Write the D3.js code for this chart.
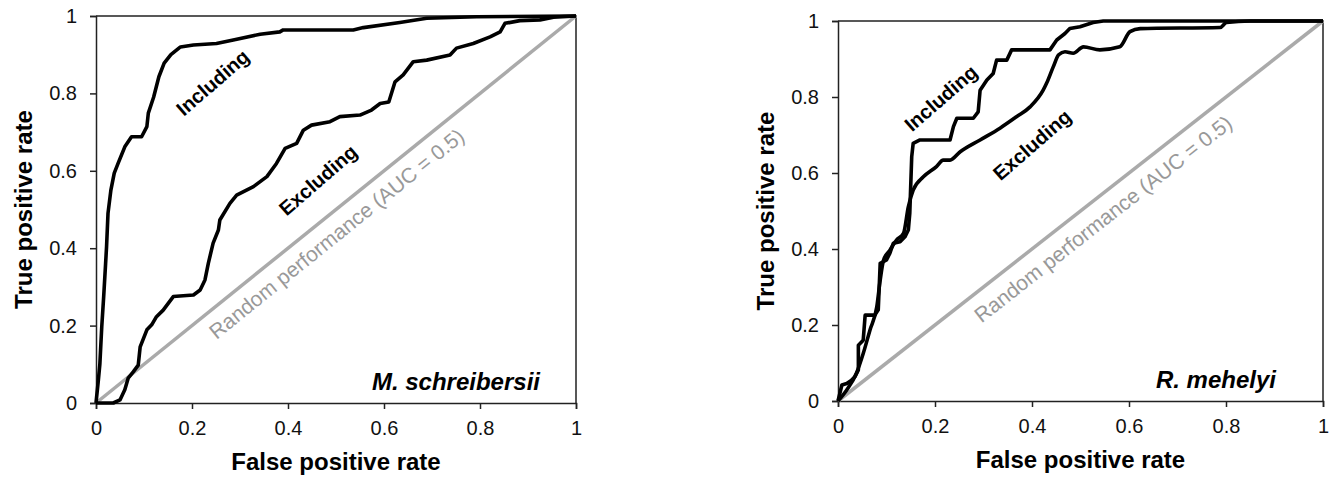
<!DOCTYPE html>
<html>
<head>
<meta charset="utf-8">
<script src="https://cdn.jsdelivr.net/npm/d3@7.9.0/dist/d3.min.js"></script>
<style>
  body { margin: 0; background: #fff; }
  svg { display: block; font-family: Arial, "Liberation Sans", sans-serif; }
</style>
</head>
<body>
<div id="viz"></div>
<script>
// tick values shared by both panels
const ticks = [0, 0.2, 0.4, 0.6, 0.8, 1];

// M. schreibersii  [false positive rate, true positive rate]
const msIncluding = [
  [0, 0], [0.005, 0.06], [0.008, 0.10], [0.012, 0.197], [0.016, 0.275], [0.02, 0.36],
  [0.022, 0.404], [0.025, 0.49], [0.031, 0.55], [0.038, 0.594], [0.046, 0.619],
  [0.06, 0.662], [0.074, 0.688], [0.095, 0.688], [0.106, 0.714], [0.109, 0.749],
  [0.12, 0.79], [0.131, 0.843], [0.142, 0.878], [0.156, 0.90], [0.176, 0.92],
  [0.203, 0.925], [0.251, 0.929], [0.286, 0.938], [0.342, 0.953], [0.383, 0.959],
  [0.39, 0.964], [0.508, 0.964], [0.536, 0.964], [0.557, 0.97], [0.633, 0.983],
  [0.689, 0.994], [0.793, 0.998], [1, 1]
];
const msExcluding = [
  [0, 0], [0.036, 0], [0.05, 0.008], [0.06, 0.034], [0.067, 0.064], [0.078, 0.081],
  [0.088, 0.098], [0.092, 0.145], [0.106, 0.189], [0.116, 0.202], [0.126, 0.223],
  [0.14, 0.24], [0.161, 0.275], [0.203, 0.279], [0.217, 0.292], [0.227, 0.318],
  [0.234, 0.361], [0.244, 0.413], [0.255, 0.447], [0.258, 0.473], [0.279, 0.516],
  [0.293, 0.537], [0.328, 0.559], [0.356, 0.585], [0.376, 0.619], [0.394, 0.658],
  [0.418, 0.671], [0.432, 0.705], [0.449, 0.718], [0.4875, 0.727], [0.508, 0.74],
  [0.55, 0.744], [0.574, 0.757], [0.592, 0.774], [0.61, 0.778], [0.623, 0.83],
  [0.64, 0.848], [0.661, 0.882], [0.689, 0.886], [0.7375, 0.899], [0.751, 0.917],
  [0.786, 0.929], [0.821, 0.946], [0.842, 0.959], [0.852, 0.981], [0.883, 0.988],
  [0.925, 0.99], [0.953, 0.997], [1, 1]
];

// R. mehelyi
const rmIncluding = [
  [0, 0], [0.008, 0.042], [0.018, 0.046], [0.028, 0.055], [0.035, 0.064], [0.042, 0.082],
  [0.042, 0.147], [0.052, 0.16], [0.056, 0.226], [0.076, 0.226], [0.083, 0.24],
  [0.087, 0.362], [0.1, 0.371], [0.107, 0.389], [0.114, 0.415], [0.128, 0.419],
  [0.138, 0.432], [0.145, 0.45], [0.148, 0.494], [0.152, 0.643], [0.155, 0.678],
  [0.169, 0.687], [0.231, 0.687], [0.238, 0.722], [0.245, 0.744], [0.279, 0.744],
  [0.289, 0.761], [0.293, 0.818], [0.307, 0.845], [0.32, 0.862], [0.327, 0.897],
  [0.348, 0.897], [0.358, 0.924], [0.437, 0.924], [0.451, 0.95], [0.468, 0.967],
  [0.478, 0.98], [0.499, 0.985], [0.526, 0.996], [0.547, 1], [1, 1]
];
const rmExcluding = [
  [0, 0], [0.018, 0.029], [0.038, 0.073], [0.052, 0.125], [0.066, 0.187], [0.08, 0.248],
  [0.087, 0.318], [0.094, 0.371], [0.107, 0.397], [0.121, 0.424], [0.135, 0.441],
  [0.145, 0.511], [0.155, 0.555], [0.176, 0.59], [0.203, 0.617], [0.217, 0.634],
  [0.231, 0.634], [0.252, 0.656], [0.293, 0.687], [0.334, 0.718], [0.368, 0.748],
  [0.396, 0.774], [0.423, 0.818], [0.43, 0.836], [0.444, 0.88], [0.455, 0.911],
  [0.468, 0.919], [0.485, 0.915], [0.506, 0.932], [0.54, 0.924], [0.581, 0.932],
  [0.602, 0.972], [0.623, 0.98], [0.788, 0.983], [0.801, 0.996], [0.85, 1], [1, 1]
];

const panels = [
  { species: "M. schreibersii", inc: msIncluding, exc: msExcluding, smooth: false,
    left: 96, right: 576, top: 16, bottom: 403,
    incLabel: [0.243, 0.828], excLabel: [0.4625, 0.576], randLabel: [0.251, 0.163], speciesX: 0.925 },
  { species: "R. mehelyi", inc: rmIncluding, exc: rmExcluding, smooth: true,
    left: 838, right: 1323, top: 21, bottom: 401,
    incLabel: [0.212, 0.797], excLabel: [0.4, 0.674], randLabel: [0.296, 0.204], speciesX: 0.903 }
];

const svg = d3.select("#viz").append("svg")
  .attr("width", 1336)
  .attr("height", 488);

panels.forEach(p => {
  const x = d3.scaleLinear().domain([0, 1]).range([p.left, p.right]);
  const y = d3.scaleLinear().domain([0, 1]).range([p.bottom, p.top]);
  const g = svg.append("g");

  // frame (top + right)
  g.append("path")
    .attr("d", `M${x(0)},${y(1)}H${x(1)}V${y(0)}`)
    .attr("fill", "none")
    .attr("stroke", "#222")
    .attr("stroke-width", 1.5);

  // axes
  const xAxis = g.append("g")
    .attr("transform", `translate(0,${y(0)})`)
    .call(d3.axisBottom(x).tickValues(ticks).tickFormat(d3.format("")).tickSize(6).tickPadding(12));
  const yAxis = g.append("g")
    .attr("transform", `translate(${x(0)},0)`)
    .call(d3.axisLeft(y).tickValues(ticks).tickFormat(d3.format("")).tickSize(6).tickPadding(13));
  [xAxis, yAxis].forEach(a => {
    a.select(".domain").attr("stroke", "#222").attr("stroke-width", 1.5);
    a.selectAll(".tick line").attr("stroke", "#222").attr("stroke-width", 1.5);
    a.selectAll(".tick text").attr("font-size", 20).attr("fill", "#111")
      .attr("font-family", "Arial, 'Liberation Sans', sans-serif");
  });

  // random diagonal
  g.append("line")
    .attr("x1", x(0)).attr("y1", y(0))
    .attr("x2", x(1)).attr("y2", y(1))
    .attr("stroke", "#aaaaaa")
    .attr("stroke-width", 3.5);

  const diagAngle = Math.atan2(y(0) - y(1), x(1) - x(0)) * 180 / Math.PI;
  g.append("text")
    .attr("transform", `translate(${x(p.randLabel[0])},${y(p.randLabel[1])}) rotate(${-diagAngle})`)
    .attr("font-size", 21)
    .attr("fill", "#999")
    .text("Random performance (AUC = 0.5)");

  const line = d3.line().x(d => x(d[0])).y(d => y(d[1]));
  const smoothLine = d3.line().x(d => x(d[0])).y(d => y(d[1])).curve(d3.curveMonotoneX);

  g.append("path")
    .datum(p.exc)
    .attr("d", p.smooth ? smoothLine : line)
    .attr("fill", "none")
    .attr("stroke", "#000")
    .attr("stroke-width", 3.6)
    .attr("stroke-linejoin", "round");

  g.append("path")
    .datum(p.inc)
    .attr("d", line)
    .attr("fill", "none")
    .attr("stroke", "#000")
    .attr("stroke-width", 3.6)
    .attr("stroke-linejoin", "round");

  // curve labels
  [["Including", p.incLabel], ["Excluding", p.excLabel]].forEach(([t, pos]) => {
    g.append("text")
      .attr("transform", `translate(${x(pos[0])},${y(pos[1])}) rotate(-41)`)
      .attr("text-anchor", "middle")
      .attr("dominant-baseline", "central")
      .attr("font-size", 20)
      .attr("font-weight", "bold")
      .text(t);
  });

  // species name
  g.append("text")
    .attr("x", x(p.speciesX))
    .attr("y", y(0) - 13)
    .attr("text-anchor", "end")
    .attr("font-size", 24)
    .attr("font-weight", "bold")
    .attr("font-style", "italic")
    .text(p.species);

  // axis titles
  g.append("text")
    .attr("x", (x(0) + x(1)) / 2)
    .attr("y", y(0) + 67)
    .attr("text-anchor", "middle")
    .attr("font-size", 24)
    .attr("font-weight", "bold")
    .text("False positive rate");

  g.append("text")
    .attr("transform", `translate(${x(0) - 64},${(y(0) + y(1)) / 2}) rotate(-90)`)
    .attr("text-anchor", "middle")
    .attr("font-size", 24)
    .attr("font-weight", "bold")
    .text("True positive rate");
});
</script>
</body>
</html>
